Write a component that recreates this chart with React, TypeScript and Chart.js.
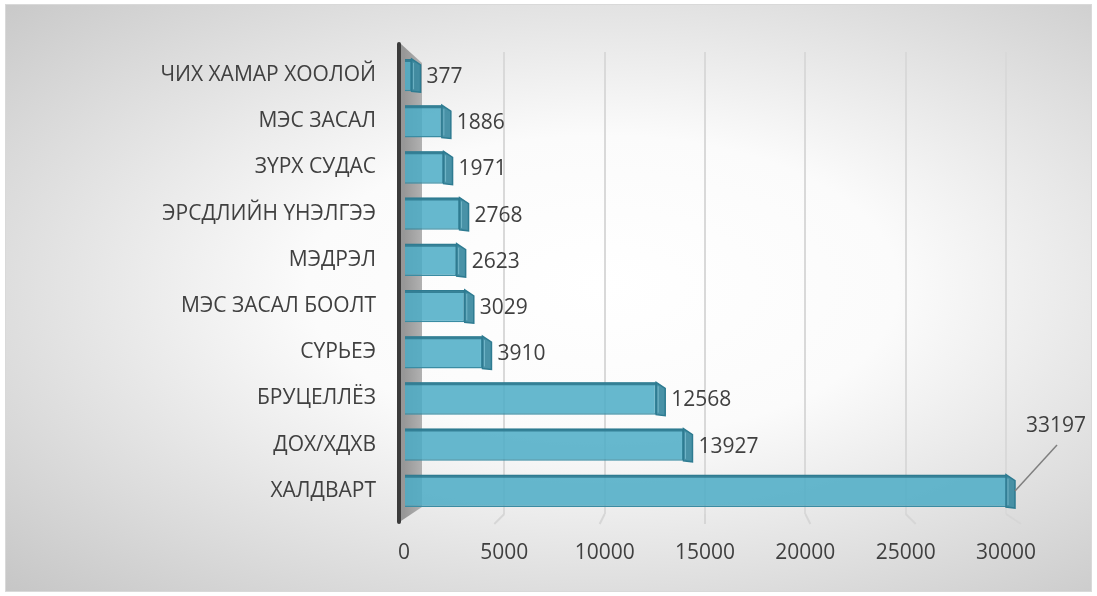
import React, { useEffect, useRef } from "react";
import { Chart, registerables } from "chart.js";

Chart.register(...registerables);

const categories = [
  "ЧИХ ХАМАР ХООЛОЙ",
  "МЭС ЗАСАЛ",
  "ЗҮРХ СУДАС",
  "ЭРСДЛИЙН ҮНЭЛГЭЭ",
  "МЭДРЭЛ",
  "МЭС ЗАСАЛ БООЛТ",
  "СҮРЬЕЭ",
  "БРУЦЕЛЛЁЗ",
  "ДОХ/ХДХВ",
  "ХАЛДВАРТ",
];
const values = [377, 1886, 1971, 2768, 2623, 3029, 3910, 12568, 13927, 33197];
const xTickValues = [0, 5000, 10000, 15000, 20000, 25000, 30000];
const xMin = 0;
const xMax = 30000;

const FONT = "'Open Sans', 'DejaVu Sans', sans-serif";
const TEXT = "#404040";

const decoPlugin = {
  id: "deco3d",
  beforeDatasetsDraw(chart: any) {
    const { ctx, chartArea: a } = chart;
    ctx.save();
    // grey side wall
    const g = ctx.createLinearGradient(a.left, 0, a.left + 20, 0);
    g.addColorStop(0, "#979797");
    g.addColorStop(1, "#b4b4b4");
    ctx.fillStyle = g;
    ctx.beginPath();
    ctx.moveTo(a.left - 3, a.top - 8);
    ctx.lineTo(a.left + 18, a.top + 11);
    ctx.lineTo(a.left + 18, a.bottom - 7);
    ctx.lineTo(a.left - 3, a.bottom + 7);
    ctx.closePath();
    ctx.fill();
    // floor lines below grid
    const xs = chart.scales.x;
    ctx.strokeStyle = "#d6d6d6";
    ctx.lineWidth = 2;
    const cx = (a.left + a.right) / 2;
    xTickValues.forEach((v) => {
      if (v === 0) return;
      const px = xs.getPixelForValue(v);
      ctx.beginPath();
      ctx.moveTo(px, a.bottom);
      ctx.lineTo(px + (px - cx) * 0.05, a.bottom + 10);
      ctx.stroke();
    });
    // dark vertical axis
    ctx.strokeStyle = "#3b3b3b";
    ctx.lineWidth = 4;
    ctx.lineCap = "round";
    ctx.beginPath();
    ctx.moveTo(a.left - 5, a.top - 8);
    ctx.lineTo(a.left - 5, a.bottom + 8);
    ctx.stroke();
    ctx.restore();
  },
  afterDatasetsDraw(chart: any) {
    const { ctx, chartArea: a } = chart;
    const meta = chart.getDatasetMeta(0);
    ctx.save();
    meta.data.forEach((bar: any, i: number) => {
      const p = bar.getProps(["x", "y", "base", "height"], true);
      const x1 = Math.min(p.x, a.right);
      const top = p.y - p.height / 2;
      const bot = p.y + p.height / 2;
      const dx = 9;
      const dy = 6;
      // top face strip
      ctx.fillStyle = "rgba(45,120,142,0.85)";
      ctx.beginPath();
      ctx.moveTo(p.base, top);
      ctx.lineTo(x1, top);
      ctx.lineTo(x1 + dx * 0.5, top + dy * 0.5);
      ctx.lineTo(p.base, top + 3);
      ctx.closePath();
      ctx.fill();
      // end face
      ctx.fillStyle = "rgba(58,137,160,0.92)";
      ctx.strokeStyle = "#2e7b91";
      ctx.lineWidth = 1.5;
      ctx.beginPath();
      ctx.moveTo(x1, top);
      ctx.lineTo(x1 + dx, top + dy);
      ctx.lineTo(x1 + dx, bot + 1);
      ctx.lineTo(x1, bot);
      ctx.closePath();
      ctx.fill();
      ctx.stroke();
      ctx.strokeStyle = "rgba(140,205,222,0.6)";
      ctx.lineWidth = 1;
      ctx.beginPath();
      ctx.moveTo(x1 + 2, top + 4);
      ctx.lineTo(x1 + 2, bot - 2);
      ctx.stroke();

      // data labels
      const v = values[i];
      ctx.font = `21px ${FONT}`;
      ctx.fillStyle = TEXT;
      ctx.textBaseline = "middle";
      if (v > xMax) {
        const lx = x1 + dx;
        const ly = p.y;
        ctx.strokeStyle = "#7f7f7f";
        ctx.lineWidth = 1.5;
        ctx.beginPath();
        ctx.moveTo(lx, ly);
        ctx.lineTo(lx + 42, ly - 46);
        ctx.stroke();
        ctx.textAlign = "center";
        ctx.fillText(String(v), lx + 41, ly - 65);
      } else {
        ctx.textAlign = "left";
        ctx.fillText(String(v), x1 + dx + 6, p.y + 2);
      }
    });
    ctx.restore();
  },
};

export default function App() {
  const ref = useRef<HTMLCanvasElement | null>(null);

  useEffect(() => {
    if (!ref.current) return;
    const chart = new Chart(ref.current, {
      type: "bar",
      data: {
        labels: categories,
        datasets: [
          {
            data: values,
            backgroundColor: "rgba(75,172,198,0.85)",
            borderColor: "#3a8ca3",
            borderWidth: 1.5,
            categoryPercentage: 1,
            barPercentage: 0.7,
          },
        ],
      },
      options: {
        indexAxis: "y",
        animation: false,
        responsive: false,
        maintainAspectRatio: false,
        layout: { padding: { top: 47, right: 85, left: 0, bottom: 0 } },
        plugins: {
          legend: { display: false },
          tooltip: { enabled: false },
        },
        scales: {
          x: {
            min: xMin,
            max: xMax,
            afterBuildTicks: (s: any) => {
              s.ticks = xTickValues.map((v) => ({ value: v }));
            },
            grid: { color: "#d9d9d9", lineWidth: 2, drawTicks: false },
            border: { display: false },
            ticks: {
              padding: 26,
              maxRotation: 0,
              autoSkip: false,
              color: TEXT,
              font: { family: FONT, size: 21 },
              callback: (v: any) => String(v),
            },
            afterFit: (s: any) => {
              s.height = 77;
            },
          },
          y: {
            grid: { display: false, drawTicks: false },
            border: { display: false },
            ticks: {
              padding: 28,
              color: TEXT,
              font: { family: FONT, size: 21 },
            },
            afterFit: (s: any) => {
              s.width = 398;
            },
          },
        },
      },
      plugins: [decoPlugin],
    });
    return () => chart.destroy();
  }, []);

  return (
    <div
      style={{
        position: "absolute",
        left: 5,
        top: 4,
        width: 1087,
        height: 588,
        boxSizing: "border-box",
        border: "1px solid #d9d9d9",
        background:
          "radial-gradient(ellipse farthest-corner at 55% 48%, #ffffff 0%, #fbfbfb 35%, #c6c6c6 100%)",
      }}
    >
      <canvas ref={ref} width={1085} height={586} style={{ display: "block" }} />
    </div>
  );
}
